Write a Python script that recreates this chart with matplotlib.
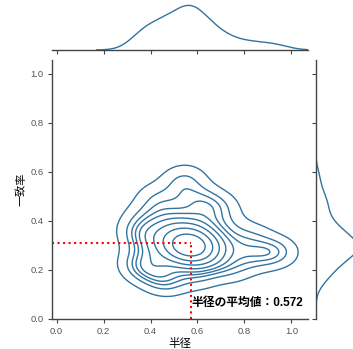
import matplotlib
matplotlib.use("Agg")
import matplotlib.pyplot as plt
import seaborn as sns

# sample points (radius, match rate)
radius = [0.57, 0.55, 0.59, 0.56, 0.58, 0.53, 0.61, 0.57, 0.55, 0.60,
          0.48, 0.50, 0.52, 0.46, 0.64, 0.66, 0.62, 0.68, 0.58, 0.54,
          0.50, 0.44, 0.70, 0.63, 0.47,
          0.40, 0.38, 0.42, 0.45, 0.55, 0.65, 0.72, 0.78, 0.80, 0.74,
          0.60, 0.48, 0.37, 0.52, 0.62, 0.87, 0.92, 0.37, 0.42, 0.70,
          0.34, 0.35, 0.95, 0.56, 0.45, 0.84, 0.37]
match_rate = [0.30, 0.31, 0.29, 0.28, 0.32, 0.30, 0.30, 0.34, 0.27, 0.26,
              0.33, 0.28, 0.36, 0.26, 0.33, 0.28, 0.38, 0.24, 0.40, 0.22,
              0.40, 0.31, 0.31, 0.22, 0.37,
              0.36, 0.26, 0.20, 0.45, 0.48, 0.45, 0.38, 0.30, 0.24, 0.20,
              0.17, 0.16, 0.32, 0.55, 0.50, 0.26, 0.27, 0.42, 0.50, 0.46,
              0.36, 0.22, 0.28, 0.58, 0.15, 0.34, 0.20]

radius_mean = 0.572
match_mean = 0.31
xticks = [0.0, 0.2, 0.4, 0.6, 0.8, 1.0]
yticks = [0.0, 0.2, 0.4, 0.6, 0.8, 1.0]

plt.rcParams["font.family"] = ["Liberation Sans", "Noto Sans CJK JP"]
line_color = "#3274a1"
spine_color = "#444444"
tick_color = "#555555"

fig = plt.figure(figsize=(3.53, 3.49), dpi=100)
ax = fig.add_axes([0.147, 0.086, 0.725, 0.742])
ax_top = fig.add_axes([0.147, 0.857, 0.725, 0.134], sharex=ax)
ax_right = fig.add_axes([0.895, 0.086, 0.125, 0.742], sharey=ax)

bw = 0.85
sns.kdeplot(x=radius, y=match_rate, ax=ax, color=line_color, linewidths=1.0,
            bw_adjust=bw)
sns.kdeplot(x=radius, ax=ax_top, color=line_color, linewidth=1.0, bw_adjust=bw)
sns.kdeplot(y=match_rate, ax=ax_right, color=line_color, linewidth=1.0,
            bw_adjust=bw)

ax.plot([radius_mean, radius_mean], [0, match_mean], color="red", ls=":", lw=1.5)
ax.plot([-0.02, radius_mean], [match_mean, match_mean], color="red", ls=":", lw=1.5)
ax.text(radius_mean + 0.002, 0.065, "半径の平均値：0.572", fontsize=8.5,
        fontweight="bold", va="center", ha="left")

ax.set_xlim(-0.02, 1.07)
ax.set_ylim(0.0, 1.055)
ax.set_xticks(xticks)
ax.set_yticks(yticks)
ax.set_xlabel("半径", fontsize=8.3, labelpad=1)
ax.set_ylabel("一致率", fontsize=8, labelpad=3)
ax.tick_params(labelsize=6.8, colors=spine_color, labelcolor=tick_color,
               length=3, width=0.8, pad=3)

for a in (ax, ax_top, ax_right):
    for s in a.spines.values():
        s.set_color(spine_color)
        s.set_linewidth(1.0)

ax.spines["top"].set_visible(False)
ax.spines["right"].set_visible(False)

for s in ("top", "right", "left"):
    ax_top.spines[s].set_visible(False)
ax_top.set_ylabel("")
ax_top.set_yticks([])
ax_top.tick_params(axis="x", labelbottom=False, length=3, width=0.8, colors=spine_color)

for s in ("top", "right", "bottom"):
    ax_right.spines[s].set_visible(False)
ax_right.set_xlabel("")
ax_right.set_xticks([])
ax_right.tick_params(axis="y", labelleft=False, length=3, width=0.8, colors=spine_color)

plt.savefig("out.png", dpi=100)
plt.close()
